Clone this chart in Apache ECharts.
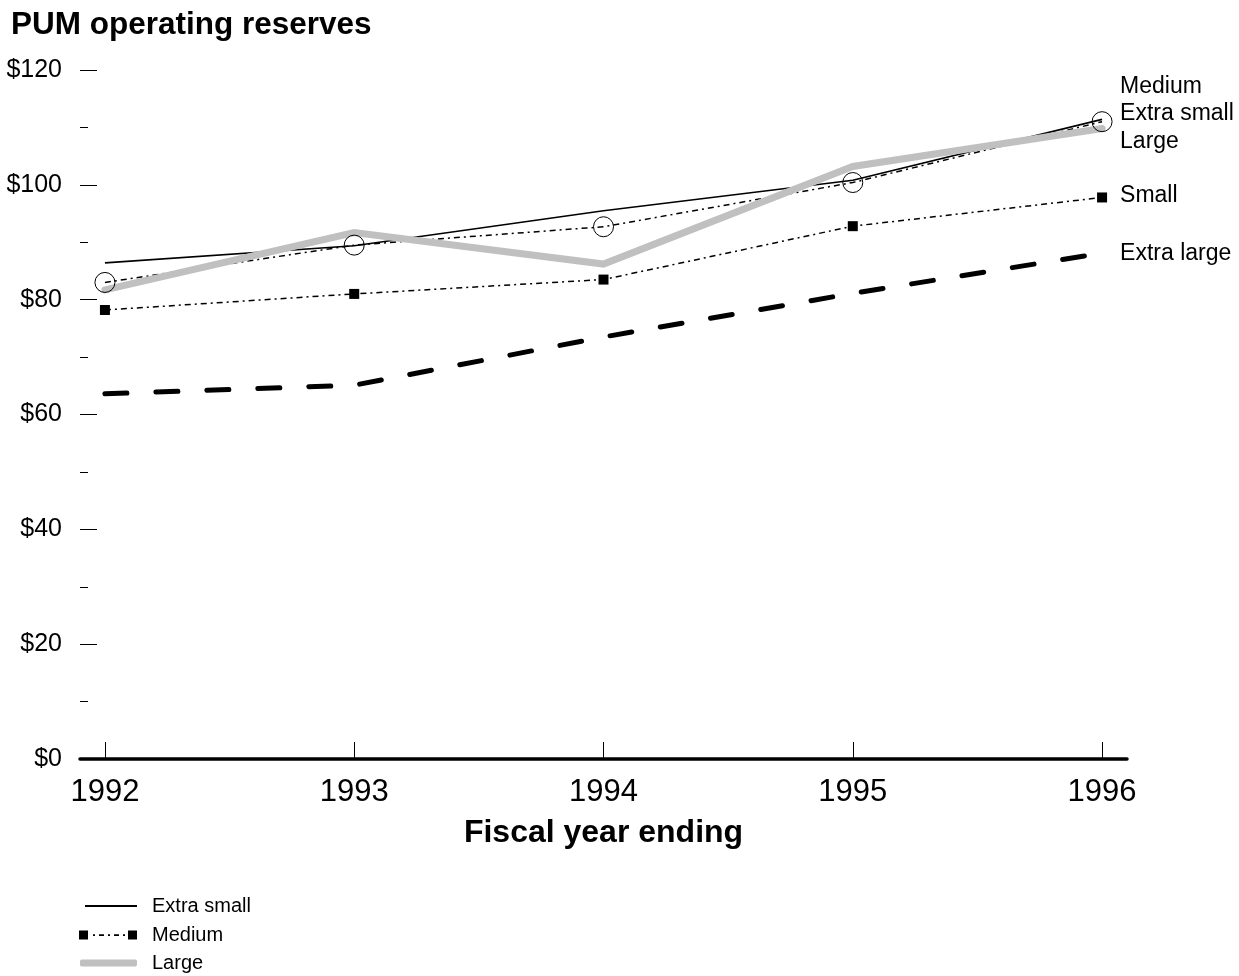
<!DOCTYPE html>
<html>
<head>
<meta charset="utf-8">
<title>PUM operating reserves</title>
<script src="https://cdn.jsdelivr.net/npm/echarts@6/dist/echarts.min.js"></script>
<style>
  html, body { margin: 0; padding: 0; background: #fff; }
  #chart { width: 1239px; height: 976px; }
</style>
</head>
<body>
<div id="chart"></div>
<script>
// Fiscal years and reserves per member per month (dollars)
const years = [1992, 1993, 1994, 1995, 1996];
const extraSmall = [86.4, 89.4, 95.5, 100.8, 111.4];
const medium = [83.0, 89.5, 92.7, 100.4, 111.0];
const large = [81.7, 91.7, 86.2, 103.2, 109.8];
const small = [78.2, 81.0, 83.5, 92.8, 97.8];
const extraLarge = [63.6, 65.1, 73.5, 81.1, 88.1];
const yTicks = [0, 20, 40, 60, 80, 100, 120];

const FONT = "'Liberation Sans', Arial, Helvetica, sans-serif";
const pairs = vals => years.map((y, i) => [y, vals[i]]);

const chart = echarts.init(document.getElementById('chart'), null, { renderer: 'canvas' });

const endLabel = (dy) => ({
  show: true,
  formatter: '{a}',
  distance: 18,
  offset: [0, dy],
  color: '#000',
  fontFamily: FONT,
  fontSize: 23
});

const legendText = {
  color: '#000',
  fontFamily: FONT,
  fontSize: 20,
  lineHeight: 22,
  padding: [0, 0, 0, 10]
};

// square - dot - dash - square swatch for the marker legend entry
const squareSwatch = 'path://M0,0h9v9h-9z M14,3.8h2v1.6h-2z M20,3.8h5v1.6h-5z M29,3.8h2v1.6h-2z M35,3.8h5v1.6h-5z M44,3.8h2v1.6h-2z M49,0h9v9h-9z';

chart.setOption({
  animation: false,
  backgroundColor: '#fff',
  title: {
    text: 'PUM operating reserves',
    left: 6,
    top: 4,
    textStyle: { color: '#000', fontFamily: FONT, fontWeight: 'bold', fontSize: 31.5 }
  },
  grid: { left: 80, right: 112, top: 70, bottom: 217, containLabel: false },
  xAxis: {
    type: 'value',
    min: 1991.9,
    max: 1996.1,
    name: 'Fiscal year ending',
    nameLocation: 'middle',
    nameGap: 58,
    nameTextStyle: { color: '#000', fontFamily: FONT, fontWeight: 'bold', fontSize: 32 },
    axisLine: { show: true, lineStyle: { color: '#000', width: 3.5 } },
    axisTick: {
      show: true, inside: true, length: 17,
      customValues: years,
      lineStyle: { color: '#000', width: 1 }
    },
    axisLabel: {
      customValues: years,
      formatter: v => String(v),
      color: '#000', fontFamily: FONT, fontSize: 31, margin: 18
    },
    splitLine: { show: false }
  },
  yAxis: {
    type: 'value',
    min: 0,
    max: 120,
    interval: 20,
    axisLine: { show: false },
    axisTick: { show: true, inside: true, length: 17, lineStyle: { color: '#000', width: 1 } },
    minorTick: { show: true, splitNumber: 2, length: 8, lineStyle: { color: '#000', width: 1 } },
    axisLabel: {
      customValues: yTicks,
      formatter: v => '$' + v,
      color: '#000', fontFamily: FONT, fontSize: 25, margin: 18
    },
    splitLine: { show: false },
    minorSplitLine: { show: false }
  },
  legend: [
    {
      orient: 'vertical', left: 85, top: 895, padding: 0,
      itemWidth: 52, itemHeight: 2, selectedMode: false,
      textStyle: legendText,
      data: [{ name: 'Extra small', icon: 'rect', itemStyle: { color: '#000', borderWidth: 0 } }]
    },
    {
      orient: 'vertical', left: 79, top: 924, padding: 0,
      itemWidth: 58, itemHeight: 9, selectedMode: false,
      textStyle: legendText,
      data: [{ name: 'Medium', icon: squareSwatch, itemStyle: { color: '#000', borderWidth: 0, opacity: 1 } }]
    },
    {
      orient: 'vertical', left: 80, top: 952, padding: 0,
      itemWidth: 57, itemHeight: 7, selectedMode: false,
      textStyle: legendText,
      data: [{ name: 'Large', icon: 'roundRect', itemStyle: { color: '#c0c0c0', borderWidth: 0 } }]
    }
  ],
  series: [
    {
      name: 'Extra large',
      type: 'line',
      data: pairs(extraLarge),
      symbol: 'none',
      lineStyle: { color: '#000', width: 5, type: [22, 29], cap: 'round' },
      endLabel: endLabel(0)
    },
    {
      name: 'Small',
      type: 'line',
      data: pairs(small),
      symbol: 'rect',
      symbolSize: 10,
      itemStyle: { color: '#000' },
      lineStyle: { color: '#000', width: 1.5, type: [6, 4, 2, 4] },
      endLabel: endLabel(-2)
    },
    {
      name: 'Extra small',
      type: 'line',
      data: pairs(extraSmall),
      symbol: 'none',
      lineStyle: { color: '#000', width: 1.6 },
      endLabel: endLabel(-6)
    },
    {
      name: 'Medium',
      type: 'line',
      data: pairs(medium),
      symbol: 'circle',
      symbolSize: 20,
      itemStyle: { color: 'rgba(0,0,0,0)', borderColor: '#000', borderWidth: 1 },
      lineStyle: { color: '#000', width: 1.5, type: [6, 4, 2, 4] },
      endLabel: endLabel(-35)
    },
    {
      name: 'Large',
      type: 'line',
      data: pairs(large),
      symbol: 'none',
      lineStyle: { color: '#c0c0c0', width: 7, cap: 'round', join: 'miter' },
      endLabel: endLabel(13)
    }
  ]
});
</script>
</body>
</html>
